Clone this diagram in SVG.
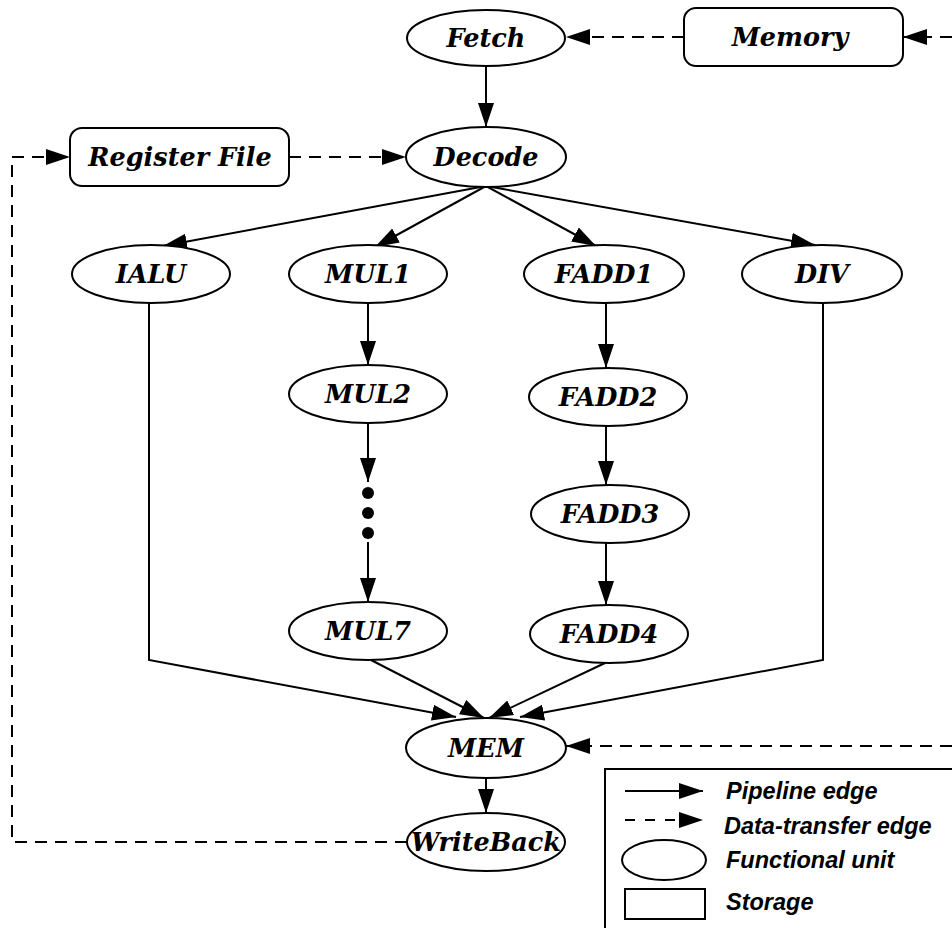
<svg xmlns="http://www.w3.org/2000/svg" width="952" height="928" viewBox="0 0 952 928">
<style>
.n ellipse, .n rect { fill: #fff; stroke: #000; stroke-width: 2; }
.n text { font-family: "DejaVu Serif", serif; font-weight: bold; font-style: italic; font-size: 25.5px; text-anchor: middle; fill: #000; }
.e { fill: none; stroke: #000; stroke-width: 2; marker-end: url(#ah); }
.d { stroke-dasharray: 12 8; }
.lg { font-family: "Liberation Sans", Arial, sans-serif; font-weight: bold; font-style: italic; font-size: 23.5px; fill: #000; }
</style>
<defs>
<marker id="ah" markerUnits="userSpaceOnUse" markerWidth="26" markerHeight="18" refX="24" refY="8" orient="auto">
<path d="M0,0 L24,8 L0,16 z" fill="#000"/>
</marker>
</defs>
<rect width="952" height="928" fill="#fff"/>
<g id="connectors">
<line class="e" x1="486" y1="66" x2="486" y2="127"/>
<line class="e d" x1="684" y1="37" x2="566" y2="37"/>
<line class="e d" x1="952" y1="37" x2="903" y2="37"/>
<line class="e d" x1="289" y1="157" x2="406" y2="157"/>
<polyline class="e d" points="407,842 12,842 12,157 70,157"/>
<line class="e d" x1="952" y1="746" x2="566" y2="746"/>
<line class="e" x1="486" y1="186" x2="163" y2="246"/>
<line class="e" x1="486" y1="186" x2="375" y2="247"/>
<line class="e" x1="486" y1="186" x2="596" y2="246"/>
<line class="e" x1="486" y1="186" x2="815" y2="245"/>
<line class="e" x1="368" y1="303" x2="368" y2="365"/>
<line class="e" x1="368" y1="423" x2="368" y2="482"/>
<line class="e" x1="368" y1="542" x2="368" y2="602"/>
<line class="e" x1="606" y1="303" x2="606" y2="368"/>
<line class="e" x1="606" y1="426" x2="606" y2="485"/>
<line class="e" x1="606" y1="543" x2="606" y2="605"/>
<polyline class="e" points="149,303 149,660 456,717"/>
<line class="e" x1="371" y1="660" x2="484" y2="718"/>
<line class="e" x1="605" y1="663" x2="489" y2="718"/>
<polyline class="e" points="823,303 823,660 520,717"/>
<line class="e" x1="486" y1="778" x2="486" y2="813"/>
</g>
<g id="dots">
<circle cx="368" cy="493" r="6" fill="#000"/>
<circle cx="368" cy="513" r="6" fill="#000"/>
<circle cx="368" cy="533" r="6" fill="#000"/>
</g>
<g id="fetch" class="n"><ellipse cx="486" cy="38" rx="79" ry="28"/><text x="486" y="47">Fetch</text></g>
<g id="memory" class="n"><rect x="684" y="8" width="219" height="58" rx="12"/><text x="790" y="46">Memory</text></g>
<g id="regfile" class="n"><rect x="70" y="128" width="219" height="58" rx="12"/><text x="180" y="166">Register File</text></g>
<g id="decode" class="n"><ellipse cx="486" cy="157" rx="80" ry="30"/><text x="486" y="166">Decode</text></g>
<g id="ialu" class="n"><ellipse cx="151" cy="274" rx="79" ry="29"/><text x="151" y="283">IALU</text></g>
<g id="mul1" class="n"><ellipse cx="368" cy="274" rx="79" ry="29"/><text x="368" y="283">MUL1</text></g>
<g id="fadd1" class="n"><ellipse cx="604" cy="274" rx="80" ry="29"/><text x="604" y="283">FADD1</text></g>
<g id="div" class="n"><ellipse cx="822" cy="274" rx="80" ry="29"/><text x="822" y="283">DIV</text></g>
<g id="mul2" class="n"><ellipse cx="368" cy="394" rx="79" ry="29"/><text x="368" y="403">MUL2</text></g>
<g id="fadd2" class="n"><ellipse cx="608" cy="397" rx="79" ry="29"/><text x="608" y="406">FADD2</text></g>
<g id="fadd3" class="n"><ellipse cx="610" cy="514" rx="79" ry="29"/><text x="610" y="523">FADD3</text></g>
<g id="mul7" class="n"><ellipse cx="368" cy="631" rx="79" ry="29"/><text x="368" y="640">MUL7</text></g>
<g id="fadd4" class="n"><ellipse cx="609" cy="634" rx="79" ry="29"/><text x="609" y="643">FADD4</text></g>
<g id="mem" class="n"><ellipse cx="486" cy="748" rx="80" ry="30"/><text x="486" y="757">MEM</text></g>
<g id="writeback" class="n"><ellipse cx="486" cy="842" rx="79" ry="29"/><text x="486" y="851">WriteBack</text></g>
<g id="legend">
<rect x="605" y="769" width="360" height="175" fill="none" stroke="#000" stroke-width="2"/>
<line class="e" x1="625" y1="791" x2="703" y2="791"/>
<line class="e" x1="625" y1="820" x2="703" y2="820" stroke-dasharray="10 10"/>
<ellipse cx="664" cy="860" rx="42" ry="20" fill="#fff" stroke="#000" stroke-width="2"/>
<rect x="625" y="889" width="80" height="30" fill="#fff" stroke="#000" stroke-width="2"/>
<text class="lg" x="726" y="799">Pipeline edge</text>
<text class="lg" x="724" y="834">Data-transfer edge</text>
<text class="lg" x="726" y="868">Functional unit</text>
<text class="lg" x="726" y="910">Storage</text>
</g>
</svg>
